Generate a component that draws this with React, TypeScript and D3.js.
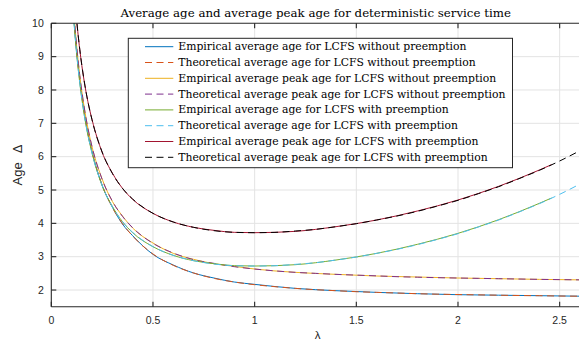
import React, { useEffect, useRef } from 'react';
import * as d3 from 'd3';

// arrival rate grid for the theoretical curves
const LAMBDA = [0.1, 0.11, 0.12, 0.13, 0.14, 0.15, 0.17, 0.2, 0.25, 0.3, 0.35, 0.4, 0.5, 0.6, 0.7, 0.8, 0.9, 1.0,
  1.1, 1.2, 1.3, 1.4, 1.5, 1.6, 1.7, 1.8, 1.9, 2.0, 2.1, 2.2, 2.3, 2.4, 2.5, 2.6, 2.65];

const TH_AGE_NOPRE = [11.15, 10.24, 9.48, 8.84, 8.29, 7.82, 7.03, 6.15, 5.15, 4.48, 3.99, 3.62, 3.08, 2.74, 2.51, 2.35, 2.24, 2.16,
  2.1, 2.05, 2.01, 1.98, 1.95, 1.93, 1.91, 1.89, 1.875, 1.865, 1.855, 1.845, 1.835, 1.83, 1.82, 1.815, 1.81];
const TH_PEAK_NOPRE = [11.3, 10.39, 9.63, 8.99, 8.44, 7.97, 7.18, 6.31, 5.32, 4.67, 4.21, 3.87, 3.4, 3.11, 2.91, 2.8, 2.7, 2.63,
  2.574, 2.53, 2.5, 2.47, 2.447, 2.425, 2.4, 2.385, 2.37, 2.36, 2.35, 2.34, 2.33, 2.32, 2.312, 2.305, 2.3];
const TH_AGE_PRE = [11.05, 10.15, 9.4, 8.76, 8.22, 7.75, 6.97, 6.11, 5.14, 4.5, 4.05, 3.73, 3.3, 3.04, 2.88, 2.78, 2.73, 2.72,
  2.73, 2.77, 2.82, 2.9, 2.99, 3.1, 3.22, 3.36, 3.52, 3.69, 3.89, 4.1, 4.34, 4.59, 4.87, 5.18, 5.34];
const TH_PEAK_PRE = [12.05, 11.15, 10.4, 9.76, 9.22, 8.75, 7.97, 7.11, 6.14, 5.5, 5.05, 4.73, 4.3, 4.04, 3.88, 3.78, 3.73, 3.72,
  3.73, 3.77, 3.82, 3.9, 3.99, 4.1, 4.22, 4.36, 4.52, 4.69, 4.89, 5.1, 5.34, 5.59, 5.87, 6.18, 6.34];

// simulation grids (with preemption the runs stop earlier)
const EMP_LAMBDA = [0.1, 0.12, 0.14, 0.16, 0.18, 0.2, 0.25, 0.3, 0.35, 0.4, 0.5, 0.6, 0.7, 0.8, 0.9, 1.0,
  1.2, 1.4, 1.6, 1.8, 2.0, 2.2, 2.4, 2.6, 2.65];
const EMP_AGE_NOPRE = [11.12, 9.47, 8.3, 7.4, 6.7, 6.16, 5.14, 4.49, 3.98, 3.63, 3.07, 2.75, 2.51, 2.36, 2.24, 2.17,
  2.05, 1.98, 1.93, 1.89, 1.86, 1.845, 1.83, 1.815, 1.81];
const EMP_PEAK_NOPRE = [11.28, 9.64, 8.43, 7.55, 6.86, 6.3, 5.33, 4.66, 4.22, 3.86, 3.41, 3.1, 2.92, 2.79, 2.71, 2.63,
  2.53, 2.47, 2.42, 2.39, 2.36, 2.34, 2.32, 2.305, 2.3];

const EMP_LAMBDA_PRE = [0.1, 0.12, 0.14, 0.16, 0.18, 0.2, 0.25, 0.3, 0.35, 0.4, 0.5, 0.6, 0.7, 0.8, 0.9, 1.0,
  1.2, 1.4, 1.6, 1.8, 2.0, 2.2, 2.4, 2.46];
const EMP_AGE_PRE = [11.04, 9.41, 8.21, 7.33, 6.65, 6.12, 5.13, 4.51, 4.05, 3.72, 3.3, 3.04, 2.88, 2.79, 2.73, 2.72,
  2.76, 2.9, 3.1, 3.37, 3.7, 4.11, 4.6, 4.76];
const EMP_PEAK_PRE = [12.04, 10.41, 9.21, 8.33, 7.65, 7.12, 6.13, 5.51, 5.05, 4.72, 4.3, 4.04, 3.88, 3.79, 3.73, 3.72,
  3.76, 3.9, 4.1, 4.37, 4.7, 5.11, 5.6, 5.76];

const X_TICKS = [0, 0.5, 1, 1.5, 2, 2.5];
const Y_TICKS = [2, 3, 4, 5, 6, 7, 8, 9, 10];

const TITLE = 'Average age and average peak age for deterministic service time';

const SERIES = [
  { name: 'Empirical average age for LCFS without preemption', xs: EMP_LAMBDA, ys: EMP_AGE_NOPRE, color: '#0072BD', dashed: false },
  { name: 'Theoretical average age for LCFS without preemption', xs: LAMBDA, ys: TH_AGE_NOPRE, color: '#D95319', dashed: true },
  { name: 'Empirical average peak age for LCFS without preemption', xs: EMP_LAMBDA, ys: EMP_PEAK_NOPRE, color: '#EDB120', dashed: false },
  { name: 'Theoretical average peak age for LCFS without preemption', xs: LAMBDA, ys: TH_PEAK_NOPRE, color: '#7E2F8E', dashed: true },
  { name: 'Empirical average age for LCFS with preemption', xs: EMP_LAMBDA_PRE, ys: EMP_AGE_PRE, color: '#77AC30', dashed: false },
  { name: 'Theoretical average age for LCFS with preemption', xs: LAMBDA, ys: TH_AGE_PRE, color: '#4DBEEE', dashed: true },
  { name: 'Empirical average peak age for LCFS with preemption', xs: EMP_LAMBDA_PRE, ys: EMP_PEAK_PRE, color: '#A2142F', dashed: false },
  { name: 'Theoretical average peak age for LCFS with preemption', xs: LAMBDA, ys: TH_PEAK_PRE, color: '#000000', dashed: true },
];

const W = 579;
const H = 347;

const App: React.FC = () => {
  const svgRef = useRef<SVGSVGElement>(null);

  useEffect(() => {
    if (!svgRef.current) return;
    const left = 51.3, right = 580, top = 23.3, bottom = 306.7;
    const axisColor = '#262626';
    const serif = '"DejaVu Serif", serif';
    const sans = '"Liberation Sans", Arial, sans-serif';

    const svg = d3.select(svgRef.current).html('');

    const x = d3.scaleLinear().domain([0, 2.6]).range([left, right]);
    const y = d3.scaleLinear().domain([1.5, 10]).range([bottom, top]);

    svg.append('rect').attr('width', W).attr('height', H).attr('fill', '#fff');

    svg.append('defs').append('clipPath').attr('id', 'plot-clip')
      .append('rect').attr('x', left).attr('y', top).attr('width', right - left).attr('height', bottom - top);

    // grid
    const grid = svg.append('g').attr('stroke', '#e3e3e3').attr('stroke-width', 1);
    X_TICKS.filter(t => t > 0).forEach(t => {
      grid.append('line').attr('x1', x(t)).attr('x2', x(t)).attr('y1', top).attr('y2', bottom);
    });
    Y_TICKS.filter(t => t < 10).forEach(t => {
      grid.append('line').attr('x1', left).attr('x2', right).attr('y1', y(t)).attr('y2', y(t));
    });

    // curves
    const plot = svg.append('g').attr('clip-path', 'url(#plot-clip)');
    SERIES.forEach(s => {
      const pts: [number, number][] = s.xs.map((v, i) => [v, s.ys[i]]);
      const line = d3.line<[number, number]>()
        .x(d => x(d[0]))
        .y(d => y(d[1]))
        .curve(d3.curveMonotoneX);
      plot.append('path')
        .attr('d', line(pts) || '')
        .attr('fill', 'none')
        .attr('stroke', s.color)
        .attr('stroke-width', 1)
        .attr('stroke-dasharray', s.dashed ? '7,4.5' : null);
    });

    // axes box (right side is beyond the picture)
    const ax = svg.append('g').attr('stroke', axisColor).attr('stroke-width', 1.1).attr('fill', 'none');
    ax.append('line').attr('x1', left).attr('x2', right).attr('y1', bottom).attr('y2', bottom);
    ax.append('line').attr('x1', left).attr('x2', right).attr('y1', top).attr('y2', top);
    ax.append('line').attr('x1', left).attr('x2', left).attr('y1', top).attr('y2', bottom);
    X_TICKS.forEach(t => {
      ax.append('line').attr('x1', x(t)).attr('x2', x(t)).attr('y1', bottom).attr('y2', bottom - 5);
      ax.append('line').attr('x1', x(t)).attr('x2', x(t)).attr('y1', top).attr('y2', top + 5);
    });
    Y_TICKS.forEach(t => {
      ax.append('line').attr('x1', left).attr('x2', left + 5).attr('y1', y(t)).attr('y2', y(t));
    });

    // tick labels
    X_TICKS.forEach(t => {
      svg.append('text')
        .attr('x', x(t)).attr('y', bottom + 17.5)
        .attr('text-anchor', 'middle')
        .style('font-family', sans).style('font-size', '10.5px').style('fill', axisColor)
        .text(String(t));
    });
    Y_TICKS.forEach(t => {
      svg.append('text')
        .attr('x', left - 7.5).attr('y', y(t)).attr('dy', '0.36em')
        .attr('text-anchor', 'end')
        .style('font-family', sans).style('font-size', '10.5px').style('fill', axisColor)
        .text(String(t));
    });

    // axis labels
    svg.append('text')
      .attr('x', (left + right) / 2 + 2).attr('y', 338.5)
      .attr('text-anchor', 'middle')
      .style('font-family', sans).style('font-size', '11.5px').style('fill', axisColor)
      .text('λ');
    const yl = svg.append('text')
      .attr('transform', `translate(22,${(top + bottom) / 2}) rotate(-90)`)
      .attr('text-anchor', 'middle')
      .style('font-family', sans).style('font-size', '13px').style('fill', axisColor);
    yl.append('tspan').text('Age');
    yl.append('tspan').attr('dx', 9).text('Δ');

    // title
    svg.append('text')
      .attr('x', (left + right) / 2).attr('y', 16.5)
      .attr('text-anchor', 'middle')
      .style('font-family', serif).style('font-size', '11.8px').style('fill', '#000')
      .text(TITLE);

    // legend
    const lgX = 128.3, lgY = 38.3, rowH = 15.8;
    const lg = svg.append('g');
    const box = lg.append('rect')
      .attr('x', lgX).attr('y', lgY).attr('height', rowH * SERIES.length + 3)
      .attr('fill', '#fff').attr('stroke', axisColor).attr('stroke-width', 1);
    let maxW = 0;
    SERIES.forEach((s, i) => {
      const cy = lgY + 8.4 + i * rowH;
      lg.append('line')
        .attr('x1', lgX + 16.7).attr('x2', lgX + 45)
        .attr('y1', cy).attr('y2', cy)
        .attr('stroke', s.color).attr('stroke-width', 1)
        .attr('stroke-dasharray', s.dashed ? '7,4.5' : null);
      const t = lg.append('text')
        .attr('x', lgX + 50).attr('y', cy).attr('dy', '0.33em')
        .style('font-family', serif).style('font-size', '10.8px').style('fill', '#000')
        .text(s.name);
      const node = t.node() as SVGTextElement;
      maxW = Math.max(maxW, node.getComputedTextLength());
    });
    box.attr('width', 50 + maxW + 7);
  }, []);

  return (
    <svg ref={svgRef} width={W} height={H}
      style={{ position: 'absolute', left: 0, top: 0, display: 'block' }} />
  );
};

export default App;
